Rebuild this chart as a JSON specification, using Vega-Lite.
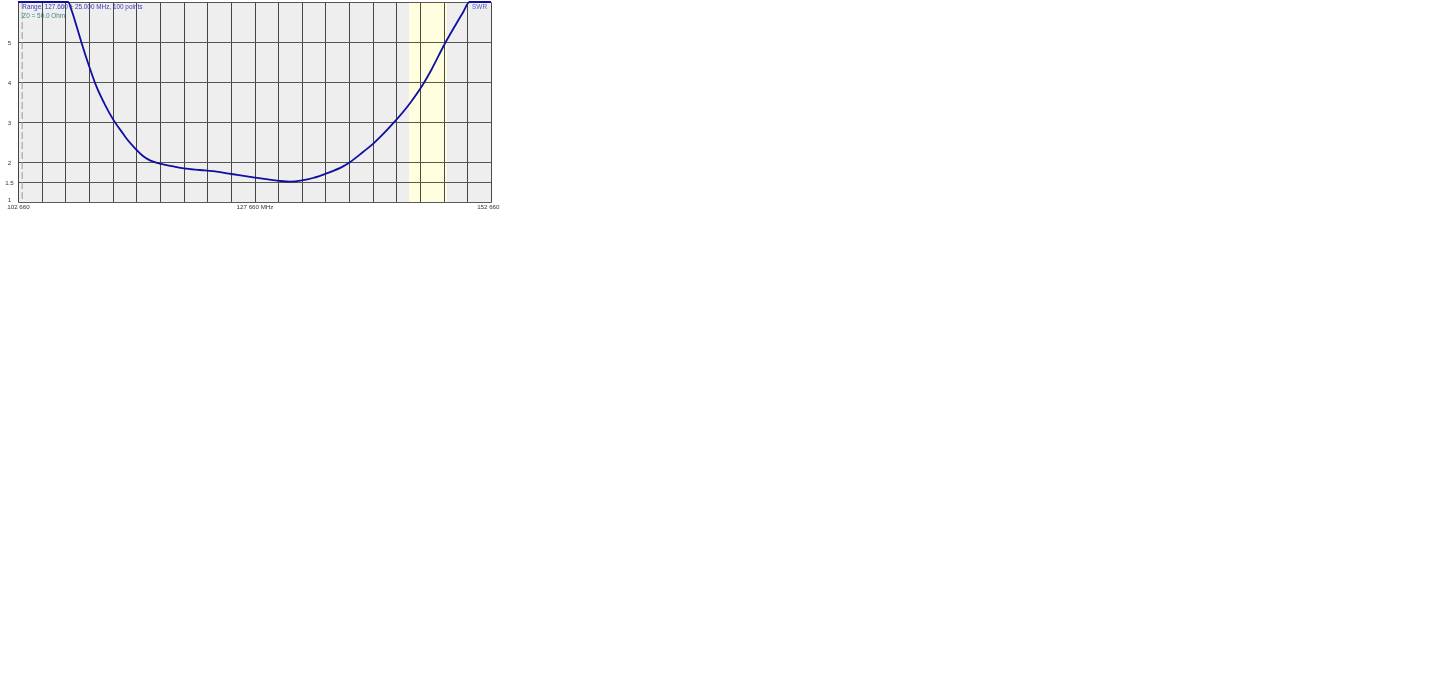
{
  "$schema": "https://vega.github.io/schema/vega-lite/v6.json",
  "width": 473,
  "height": 200,
  "autosize": "none",
  "padding": {"left": 18, "top": 2, "right": 12, "bottom": 12},
  "background": "white",
  "config": {
    "font": "Liberation Sans",
    "view": {"stroke": null, "fill": "white"},
    "axis": {
      "labelFont": "Liberation Sans",
      "labelFontSize": 6.2,
      "labelColor": "#333333",
      "ticks": false,
      "tickSize": 0,
      "domain": false,
      "title": null,
      "gridWidth": 1,
      "labelOverlap": false,
      "labelBound": false
    }
  },
  "datasets": {
    "swr": [
      {"freq": 102.66, "swr": 6},
      {"freq": 107.95, "swr": 6},
      {"freq": 108.34, "swr": 5.78},
      {"freq": 108.87, "swr": 5.38},
      {"freq": 109.39, "swr": 4.97},
      {"freq": 110.17, "swr": 4.4},
      {"freq": 110.98, "swr": 3.87},
      {"freq": 111.86, "swr": 3.43},
      {"freq": 112.73, "swr": 3.06},
      {"freq": 113.79, "swr": 2.7},
      {"freq": 114.15, "swr": 2.58},
      {"freq": 115.21, "swr": 2.3},
      {"freq": 115.87, "swr": 2.15},
      {"freq": 116.61, "swr": 2.04},
      {"freq": 117.67, "swr": 1.96},
      {"freq": 119.08, "swr": 1.89},
      {"freq": 120.21, "swr": 1.84},
      {"freq": 121.9, "swr": 1.8},
      {"freq": 123.27, "swr": 1.77},
      {"freq": 125.23, "swr": 1.7},
      {"freq": 127.71, "swr": 1.61},
      {"freq": 130.22, "swr": 1.53},
      {"freq": 131.41, "swr": 1.51},
      {"freq": 132.68, "swr": 1.54},
      {"freq": 133.84, "swr": 1.6},
      {"freq": 135.22, "swr": 1.71},
      {"freq": 137.02, "swr": 1.89},
      {"freq": 137.7, "swr": 1.99},
      {"freq": 139.13, "swr": 2.25},
      {"freq": 140.22, "swr": 2.46},
      {"freq": 140.93, "swr": 2.62},
      {"freq": 142.33, "swr": 2.97},
      {"freq": 144.1, "swr": 3.47},
      {"freq": 145.26, "swr": 3.86},
      {"freq": 146.39, "swr": 4.32},
      {"freq": 147.69, "swr": 4.92},
      {"freq": 148.85, "swr": 5.4},
      {"freq": 149.73, "swr": 5.75},
      {"freq": 150.39, "swr": 6},
      {"freq": 152.66, "swr": 6}
    ],
    "zones": [
      {"from": 102.66, "to": 144, "zone": "out"},
      {"from": 144, "to": 148, "zone": "2 m band"},
      {"from": 148, "to": 152.66, "zone": "out"}
    ],
    "marker": [
      {"freq": 103.1}
    ]
  },
  "encoding": {
    "x": {
      "type": "quantitative",
      "scale": {"domain": [102.66, 152.66], "nice": false, "zero": false},
      "axis": {
        "values": [102.66, 105.16, 107.66, 110.16, 112.66, 115.16, 117.66, 120.16, 122.66, 125.16, 127.66, 130.16, 132.66, 135.16, 137.66, 140.16, 142.66, 145.16, 147.66, 150.16, 152.66],
        "gridColor": "#4a4a4a",
        "labelPadding": 1,
        "labelBaseline": "top",
        "labelExpr": "abs(datum.value - 127.66) < 0.01 ? replace(format(datum.value * 1000, ',.0f'), ',', ' ') + ' MHz' : (abs(datum.value - 102.66) < 0.01 || abs(datum.value - 152.66) < 0.01) ? replace(format(datum.value * 1000, ',.0f'), ',', ' ') : ''",
        "labelAlign": {"condition": {"test": "datum.value > 152", "value": "right"}, "value": "center"},
        "labelOffset": {"condition": {"test": "datum.value > 152", "value": 8}, "value": 0}
      }
    },
    "y": {
      "type": "quantitative",
      "scale": {"domain": [1, 6], "nice": false, "zero": false, "clamp": true},
      "axis": {
        "values": [1, 1.5, 2, 3, 4, 5, 6],
        "gridColor": "#5a5a5a",
        "labelAlign": "center",
        "labelPadding": 9,
        "labelFlush": true,
        "labelExpr": "datum.value == 6 ? '' : format(datum.value, '~g')"
      }
    }
  },
  "layer": [
    {
      "data": {"name": "zones"},
      "mark": {"type": "rect", "blend": "multiply"},
      "encoding": {
        "x": {"field": "from"},
        "x2": {"field": "to"},
        "color": {
          "field": "zone",
          "type": "nominal",
          "scale": {"domain": ["out", "2 m band"], "range": ["#EEEEEE", "#FFFFE0"]},
          "legend": null
        }
      }
    },
    {
      "data": {"name": "marker"},
      "mark": {"type": "rule", "color": "#999999", "strokeWidth": 1, "strokeDash": [7, 3]},
      "encoding": {
        "x": {"field": "freq"}
      }
    },
    {
      "data": {"name": "swr"},
      "mark": {"type": "line", "color": "#0F0FA0", "strokeWidth": 1.8, "interpolate": "monotone"},
      "encoding": {
        "x": {"field": "freq"},
        "y": {"field": "swr"}
      }
    },
    {
      "data": {"values": [{}]},
      "mark": {"type": "text", "text": "Range: 127.660 ± 25.000 MHz, 100 points", "align": "left", "baseline": "middle", "fontSize": 6.4, "color": "#3A3AB0"},
      "encoding": {
        "x": {"datum": 103.12},
        "y": {"datum": 5.875}
      }
    },
    {
      "data": {"values": [{}]},
      "mark": {"type": "text", "text": "Z0 = 50.0 Ohm", "align": "left", "baseline": "middle", "fontSize": 6.4, "color": "#3C8888"},
      "encoding": {
        "x": {"datum": 103.12},
        "y": {"datum": 5.65}
      }
    },
    {
      "data": {"values": [{}]},
      "mark": {"type": "text", "text": "SWR", "align": "right", "baseline": "middle", "fontSize": 6.4, "color": "#5A5AC0"},
      "encoding": {
        "x": {"datum": 152.24},
        "y": {"datum": 5.875}
      }
    }
  ]
}
